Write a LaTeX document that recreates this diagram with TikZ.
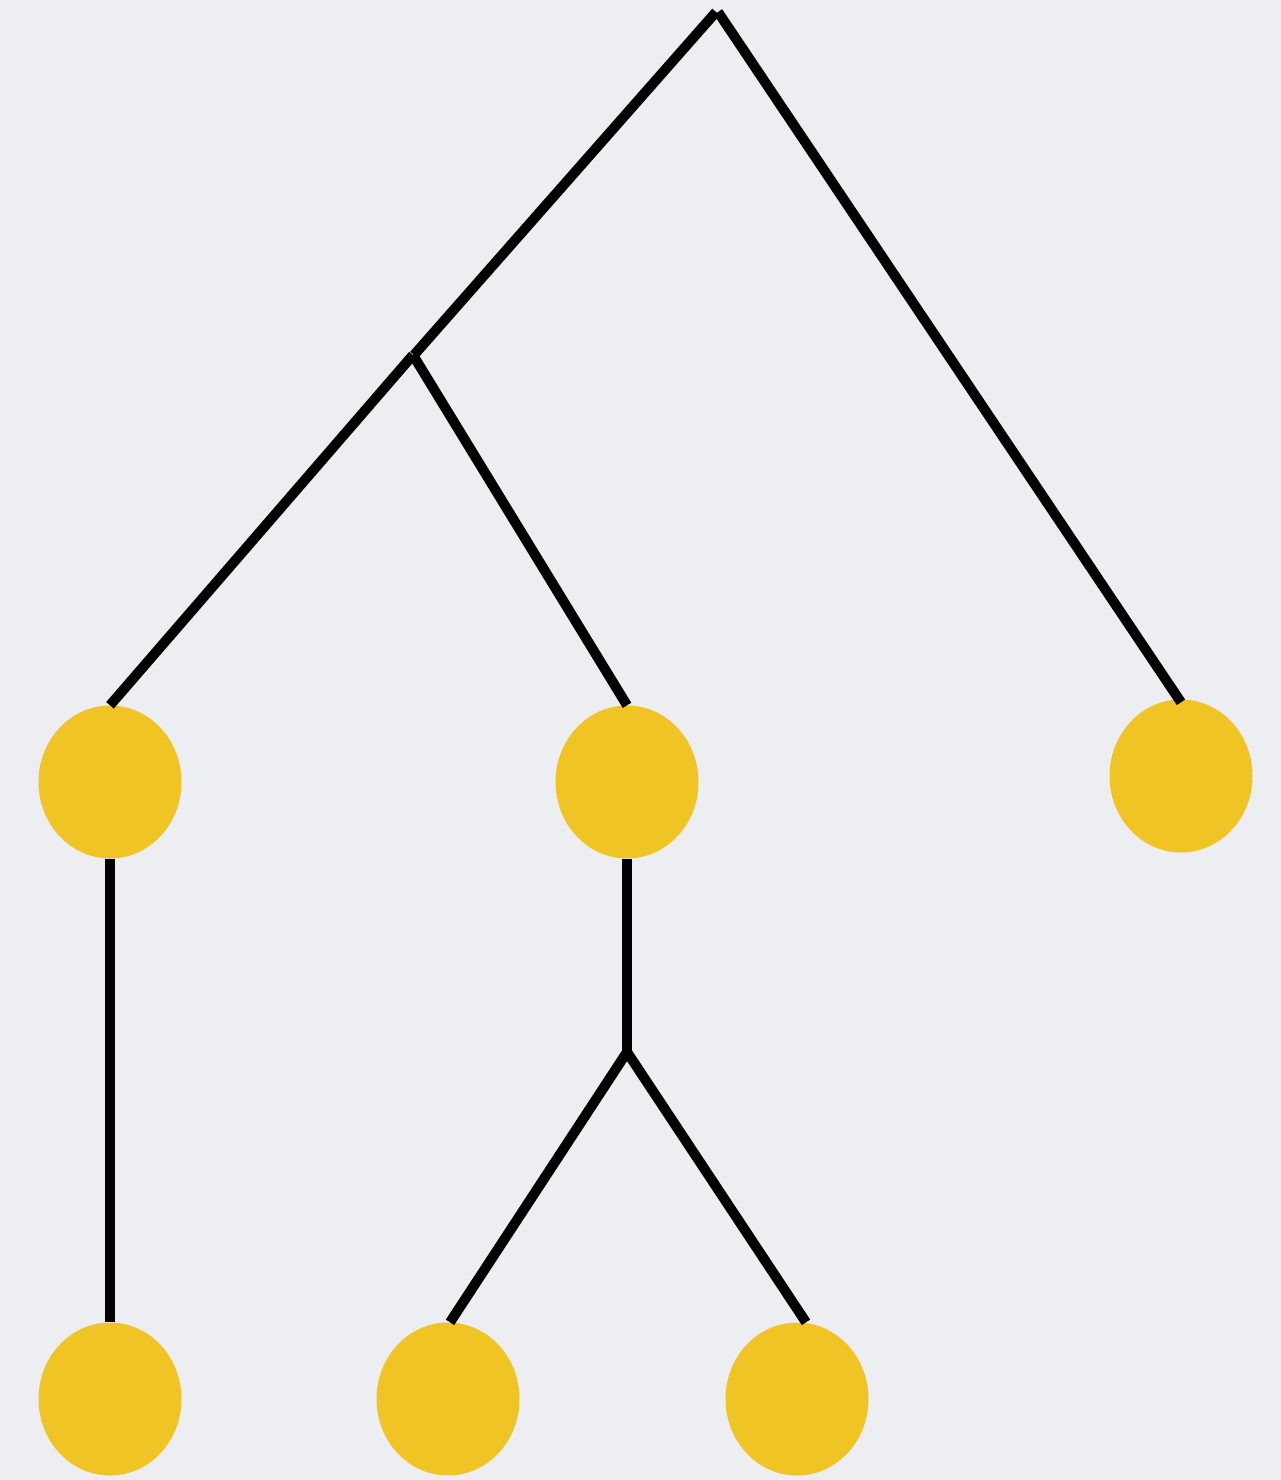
\documentclass[tikz,border=0pt]{standalone}
\usetikzlibrary{shapes.geometric}
\definecolor{bgc}{HTML}{ECEEF2}
\definecolor{leafc}{HTML}{F0C424}
\begin{document}
\begin{tikzpicture}[x=1pt,y=-1pt,
  leaf/.style={ellipse,fill=leafc,draw=none,minimum width=143pt,minimum height=153pt,inner sep=0pt},
  edge/.style={draw=black,line width=10pt,line cap=butt}]
\fill[bgc] (0,0) rectangle (1281,1480);
\useasboundingbox (0,0) rectangle (1281,1480);
\node[leaf] (A) at (110,782) {};
\node[leaf] (B) at (627,782) {};
\node[leaf] (C) at (1181,776) {};
\node[leaf] (D) at (110,1399) {};
\node[leaf] (E) at (448,1399) {};
\node[leaf] (F) at (797,1399) {};
\coordinate (R) at (716,12);
\coordinate (R2) at (718,12);
\coordinate (J1) at (414,355);
\coordinate (J1b) at (413,355);
\coordinate (J2) at (627,1052);
\draw[edge] (R) -- (J1);
\draw[edge] (R2) -- ([yshift=-3pt]C.north);
\draw[edge] (J1b) -- (A.north);
\draw[edge] (J1b) -- (B.north);
\draw[edge] (A.south) -- (D.north);
\draw[edge] (B.south) -- (J2);
\draw[edge] (J2) -- ([xshift=2pt]E.north);
\draw[edge] (J2) -- ([xshift=9pt]F.north);
\end{tikzpicture}
\end{document}
